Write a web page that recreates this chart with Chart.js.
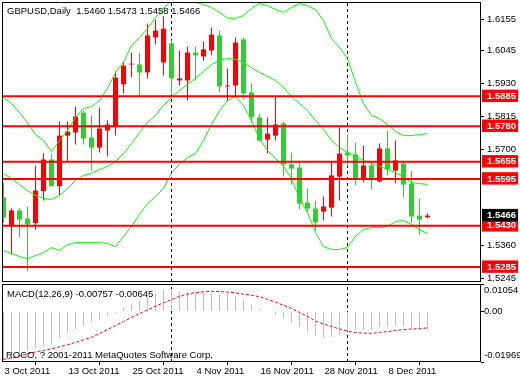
<!DOCTYPE html>
<html>
<head>
<meta charset="utf-8">
<title>GBPUSD Daily</title>
<script src="https://cdn.jsdelivr.net/npm/chart.js"></script>
<style>
  body { margin: 0; background: #fff; }
  #wrap { position: relative; width: 520px; height: 380px; overflow: hidden; }
  #priceChart { position: absolute; left: 0; top: 0; }
  #macdChart { position: absolute; left: 0; top: 283px; }
</style>
</head>
<body>
<div id="wrap">
  <canvas id="priceChart" width="520" height="284"></canvas>
  <canvas id="macdChart" width="520" height="97"></canvas>
</div>
<script>
const symbol = 'GBPUSD';
const period = 'Daily';

// daily candles, 3 Oct 2011 .. 15 Dec 2011
const opens = [1.5530,1.5428,1.5484,1.5456,1.5440,1.5552,1.5663,1.5569,1.5747,1.5758,
  1.5828,1.5740,1.5705,1.5765,1.5779,1.5927,1.5997,1.5997,1.5969,1.6092,
  1.6004,1.6071,1.5941,1.5941,1.6039,1.6025,1.6046,1.6099,1.5920,1.5923,
  1.6085,1.5899,1.5811,1.5733,1.5747,1.5790,1.5646,1.5635,1.5512,1.5491,
  1.5480,1.5494,1.5603,1.5688,1.5681,1.5593,1.5642,1.5586,1.5702,1.5624,
  1.5649,1.5579,1.5466,1.5460];
const highs = [1.5582,1.5491,1.5494,1.5498,1.5642,1.5685,1.5684,1.5797,1.5797,1.5849,
  1.5835,1.5818,1.5846,1.5800,1.5972,1.6007,1.6039,1.6039,1.6141,1.6155,
  1.6166,1.6081,1.6046,1.6060,1.6060,1.6078,1.6127,1.6116,1.5983,1.6092,
  1.6092,1.5930,1.5825,1.5811,1.5884,1.5797,1.5688,1.5653,1.5561,1.5516,
  1.5533,1.5653,1.5779,1.5751,1.5723,1.5712,1.5656,1.5719,1.5765,1.5730,
  1.5656,1.5624,1.5526,1.5473];
const lows = [1.5442,1.5329,1.5389,1.5270,1.5417,1.5519,1.5568,1.5537,1.5654,1.5716,
  1.5716,1.5624,1.5688,1.5674,1.5747,1.5895,1.5951,1.5884,1.5948,1.6067,
  1.5958,1.5891,1.5923,1.5870,1.5941,1.6011,1.6029,1.5899,1.5867,1.5884,
  1.5874,1.5793,1.5726,1.5684,1.5730,1.5603,1.5575,1.5487,1.5477,1.5414,
  1.5449,1.5463,1.5519,1.5639,1.5572,1.5582,1.5558,1.5582,1.5607,1.5579,
  1.5530,1.5442,1.5400,1.5458];
const closes = [1.5459,1.5484,1.5452,1.5435,1.5554,1.5663,1.5569,1.5747,1.5761,1.5814,
  1.5737,1.5705,1.5772,1.5786,1.5951,1.5993,1.6000,1.5969,1.6099,1.6116,
  1.6123,1.5948,1.5948,1.6039,1.6029,1.6050,1.6102,1.5920,1.5923,1.6074,
  1.5895,1.5811,1.5730,1.5754,1.5786,1.5646,1.5631,1.5508,1.5491,1.5442,
  1.5498,1.5607,1.5684,1.5677,1.5593,1.5642,1.5593,1.5702,1.5628,1.5660,
  1.5575,1.5463,1.5452,1.5466];

// bollinger bands
const bbUpper = [1.5881,1.5860,1.5828,1.5793,1.5751,1.5730,1.5691,1.5730,1.5765,1.5811,
  1.5842,1.5849,1.5870,1.5913,1.5969,1.6004,1.6064,1.6092,1.6123,1.6162,
  1.6194,1.6222,1.6236,1.6229,1.6215,1.6208,1.6197,1.6180,1.6160,1.6159,
  1.6169,1.6194,1.6211,1.6204,1.6190,1.6180,1.6197,1.6211,1.6204,1.6190,
  1.6151,1.6088,1.6057,1.6018,1.5935,1.5860,1.5818,1.5807,1.5786,1.5762,
  1.5747,1.5747,1.5751,1.5754];
const bbMiddle = [1.5614,1.5596,1.5575,1.5554,1.5537,1.5526,1.5523,1.5537,1.5561,1.5589,
  1.5607,1.5614,1.5628,1.5639,1.5656,1.5684,1.5719,1.5758,1.5793,1.5818,
  1.5853,1.5881,1.5906,1.5927,1.5948,1.5972,1.5997,1.6011,1.6018,1.6015,
  1.6004,1.5986,1.5969,1.5955,1.5941,1.5916,1.5884,1.5860,1.5835,1.5800,
  1.5769,1.5730,1.5705,1.5688,1.5674,1.5660,1.5649,1.5639,1.5628,1.5617,
  1.5600,1.5582,1.5579,1.5575];
const bbLower = [1.5343,1.5333,1.5322,1.5315,1.5326,1.5336,1.5354,1.5343,1.5364,1.5371,
  1.5371,1.5371,1.5371,1.5368,1.5357,1.5393,1.5428,1.5470,1.5508,1.5533,
  1.5561,1.5617,1.5645,1.5670,1.5684,1.5730,1.5786,1.5835,1.5870,1.5884,
  1.5853,1.5800,1.5737,1.5695,1.5667,1.5639,1.5596,1.5526,1.5477,1.5407,
  1.5357,1.5347,1.5347,1.5354,1.5393,1.5417,1.5424,1.5424,1.5428,1.5445,
  1.5449,1.5435,1.5417,1.5403];

// MACD(12,26,9): main as histogram, signal as dotted line
const macdMain = [-0.0190,-0.0172,-0.0162,-0.0153,-0.0143,-0.0134,-0.0125,-0.0102,-0.0084,-0.0069,
  -0.0055,-0.0043,-0.0033,-0.0017,-0.0007,0.0016,0.0029,0.0040,0.0055,0.0069,
  0.0082,0.0086,0.0075,0.0074,0.0072,0.0071,0.0069,0.0066,0.0069,0.0058,
  0.0046,0.0027,0.0008,-0.0002,-0.0013,-0.0027,-0.0044,-0.0062,-0.0079,-0.0098,
  -0.0102,-0.0099,-0.0091,-0.0078,-0.0073,-0.0075,-0.0073,-0.0062,-0.0060,-0.0055,
  -0.0056,-0.0066,-0.0070,-0.00757];
const macdSignal = [-0.0187,-0.0181,-0.0174,-0.0166,-0.0158,-0.0152,-0.0146,-0.0138,-0.0130,-0.0121,
  -0.0111,-0.0101,-0.0087,-0.0071,-0.0056,-0.0040,-0.0024,-0.0009,0.0005,0.0019,
  0.0033,0.0045,0.0058,0.0066,0.0072,0.0075,0.0077,0.0076,0.0074,0.0071,
  0.0066,0.0062,0.0056,0.0046,0.0035,0.0023,0.0011,-0.0005,-0.0020,-0.0038,
  -0.0050,-0.0059,-0.0069,-0.0077,-0.0083,-0.0085,-0.0086,-0.0082,-0.0079,-0.0075,
  -0.0071,-0.0069,-0.0068,-0.00645];

const levels = [1.5885, 1.5780, 1.5655, 1.5595, 1.5430, 1.5285];
const priceTicks = [1.6155, 1.6045, 1.5930, 1.5815, 1.5700, 1.5360, 1.5245];
const macdAxisLabels = ['-0.01969', '0.00', '0.01054'];
const dateLabels = ['3 Oct 2011', '13 Oct 2011', '25 Oct 2011', '4 Nov 2011', '16 Nov 2011', '28 Nov 2011', '8 Dec 2011'];
const dateTickBars = [0, 8, 16, 24, 32, 40, 48];
const monthStartBars = [21, 43];

const red = '#ff0000', green = '#32cd32', lime = '#00ff00', silver = '#c0c0c0';
const FONT = "'Liberation Sans', Arial, sans-serif";
Chart.defaults.font.family = FONT;
Chart.defaults.font.size = 9.5;
Chart.defaults.color = '#000';

// 8px per bar, chart shift on the right
const xMin = -0.1875, xMax = 59.6875;
const priceMin = 1.52327, priceMax = 1.62165;
const macdMin = -0.01969, macdMax = 0.01054;

const lastClose = closes[closes.length - 1];
const candleColor = closes.map((c, i) => c >= opens[i] ? red : green);
const isBoxed = v => levels.includes(v) || v === lastClose;
const tickBoxed = c => !!(c && c.tick && isBoxed(c.tick.value));

const panelFrame = {
  id: 'panelFrame',
  afterDraw(chart, args, opts) {
    const { ctx, chartArea: a } = chart;
    ctx.save();
    ctx.strokeStyle = '#000';
    ctx.lineWidth = 1;
    ctx.strokeRect(a.left + 0.5, a.top + 0.5, a.right - a.left - 1, a.bottom - a.top - 1);
    ctx.font = '9.5px ' + FONT;
    ctx.fillStyle = '#000';
    ctx.textBaseline = 'middle';
    (opts.texts || []).forEach(t => ctx.fillText(t.text, t.x, t.y));
    ctx.restore();
  }
};

const lineAt = y => [{ x: xMin, y }, { x: xMax, y }];
const series = arr => arr.map((v, i) => ({ x: i, y: v }));

const priceDatasets = [
  ...levels.map(lv => ({ type: 'line', data: lineAt(lv), borderColor: red, borderWidth: 2, pointRadius: 0, clip: 0, order: 0 })),
  ...[bbUpper, bbMiddle, bbLower].map(arr => ({ type: 'line', data: series(arr), borderColor: lime, borderWidth: 1, pointRadius: 0, clip: 0, order: 1 })),
  { type: 'bar', data: opens.map((o, i) => ({ x: i, y: [o, closes[i]] })), backgroundColor: candleColor,
    maxBarThickness: 5, grouped: false, inflateAmount: 0, order: 2 },
  { type: 'bar', data: lows.map((l, i) => ({ x: i, y: [l, highs[i]] })), backgroundColor: candleColor,
    maxBarThickness: 1, grouped: false, inflateAmount: 0, order: 3 },
  ...monthStartBars.map(b => ({ type: 'line', data: [{ x: b, y: priceMin }, { x: b, y: priceMax }],
    borderColor: '#000', borderWidth: 1, borderDash: [3, 3], pointRadius: 0, clip: 0, order: 4 }))
];

const titleText = symbol + ',' + period + '  ' + [opens, highs, lows, closes].map(a => a[a.length - 1].toFixed(4)).join(' ');

new Chart(document.getElementById('priceChart'), {
  type: 'line',
  data: { datasets: priceDatasets },
  plugins: [panelFrame],
  options: {
    responsive: false, animation: false, events: [], devicePixelRatio: 1,
    layout: { padding: { left: 2, top: 2, right: 0, bottom: 2 } },
    plugins: {
      legend: { display: false }, tooltip: { enabled: false },
      panelFrame: { texts: [{ text: titleText, x: 7, y: 11 }] }
    },
    scales: {
      x: { type: 'linear', min: xMin, max: xMax, offset: false, display: false },
      y: {
        position: 'right', min: priceMin, max: priceMax,
        afterBuildTicks: s => { s.ticks = [...priceTicks, ...levels, lastClose].map(v => ({ value: v })); },
        afterFit: s => { s.width = 39; s.paddingTop = 0; s.paddingBottom = 0; },
        border: { display: false },
        grid: { drawOnChartArea: false, tickLength: 3, color: c => tickBoxed(c) ? 'rgba(0,0,0,0)' : '#000' },
        ticks: {
          autoSkip: false, padding: 3,
          callback: v => v.toFixed(4),
          color: c => tickBoxed(c) ? '#fff' : '#000',
          showLabelBackdrop: c => tickBoxed(c),
          backdropColor: c => (c && c.tick && c.tick.value === lastClose) ? '#000' : red,
          backdropPadding: { left: 5, right: 2, top: 1, bottom: 0 },
          font: c => ({ family: FONT, size: 9.5, weight: tickBoxed(c) ? 'bold' : 'normal' })
        }
      }
    }
  }
});

const macdText = 'MACD(12,26,9) ' + macdMain[macdMain.length - 1].toFixed(5) + ' ' + macdSignal[macdSignal.length - 1].toFixed(5);

new Chart(document.getElementById('macdChart'), {
  type: 'line',
  data: {
    datasets: [
      { type: 'line', data: series(macdSignal), borderColor: red, borderWidth: 1, borderDash: [3, 2], pointRadius: 0, clip: 0, order: 0 },
      { type: 'bar', data: series(macdMain), backgroundColor: silver, maxBarThickness: 1, grouped: false, inflateAmount: 0, order: 1 },
      ...monthStartBars.map(b => ({ type: 'line', data: [{ x: b, y: macdMin }, { x: b, y: macdMax }],
        borderColor: '#000', borderWidth: 1, borderDash: [3, 3], pointRadius: 0, clip: 0, order: 2 }))
    ]
  },
  plugins: [panelFrame],
  options: {
    responsive: false, animation: false, events: [], devicePixelRatio: 1,
    layout: { padding: { left: 2, top: 1, right: 0, bottom: 0 } },
    plugins: {
      legend: { display: false }, tooltip: { enabled: false },
      panelFrame: { texts: [
        { text: macdText, x: 7, y: 11 },
        { text: 'ROCO, ? 2001-2011 MetaQuotes Software Corp.', x: 6, y: 72 }
      ] }
    },
    scales: {
      x: {
        type: 'linear', min: xMin, max: xMax, offset: false,
        afterBuildTicks: s => { s.ticks = dateTickBars.map(v => ({ value: v })); },
        afterFit: s => { s.height = 18; s.paddingLeft = 0; s.paddingRight = 0; },
        border: { display: false },
        grid: { drawOnChartArea: false, tickLength: 3, color: '#000' },
        ticks: { autoSkip: false, maxRotation: 0, align: 'start', labelOffset: 1, padding: 1,
          callback: (v, i) => dateLabels[i] }
      },
      y: {
        position: 'right', min: macdMin, max: macdMax,
        afterBuildTicks: s => { s.ticks = [macdMin, 0, macdMax].map(v => ({ value: v })); },
        afterFit: s => { s.width = 39; s.paddingTop = 0; s.paddingBottom = 0; },
        border: { display: false },
        grid: { drawOnChartArea: false, tickLength: 3, color: '#000' },
        ticks: {
          autoSkip: false, padding: 0, font: { lineHeight: 1.3 },
          callback: v => v === macdMax ? ['', macdAxisLabels[2]] : v === macdMin ? [macdAxisLabels[0], ''] : macdAxisLabels[1]
        }
      }
    }
  }
});
</script>
</body>
</html>
